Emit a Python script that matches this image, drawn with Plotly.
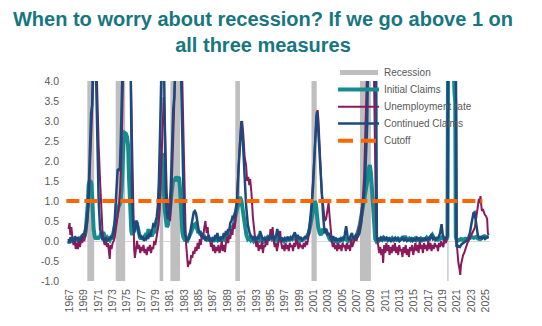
import plotly.graph_objects as go

# ---- data (year-over-year change, decimal years) ----
recession_start = [1969.92, 1973.88, 1980.0, 1981.5, 1990.55, 2001.17, 2007.92, 2020.1]
recession_end = [1970.88, 1975.2, 1980.5, 1982.85, 1991.2, 2001.9, 2009.45, 2020.27]

initial_claims = [
    (1967.3, 0.0), (1967.45, -0.05), (1967.6, 0.05), (1967.75, -0.03), (1967.9, 0.02), (1968.05, 0.0),
    (1968.2, 0.06), (1968.35, -0.02), (1968.5, 0.04), (1968.65, 0.0), (1968.8, 0.05), (1968.95, 0.02),
    (1969.1, 0.08), (1969.25, 0.05), (1969.4, 0.1), (1969.55, 0.12), (1969.7, 0.25), (1969.85, 0.5),
    (1970.0, 0.95), (1970.1, 1.4), (1970.25, 1.5), (1970.4, 1.48), (1970.5, 1.42), (1970.6, 1.1),
    (1970.7, 0.6), (1970.8, 0.3), (1970.95, 0.12), (1971.1, 0.05), (1971.25, 0.1), (1971.4, 0.05),
    (1971.55, 0.12), (1971.7, 0.08), (1971.85, 0.2), (1972.0, 0.15), (1972.15, 0.22), (1972.3, 0.1),
    (1972.45, 0.05), (1972.6, 0.08), (1972.75, 0.0), (1972.9, 0.05), (1973.05, 0.02), (1973.2, 0.08),
    (1973.35, 0.05), (1973.5, 0.15), (1973.65, 0.3), (1973.8, 0.5), (1973.95, 0.65), (1974.1, 0.75),
    (1974.25, 0.85), (1974.4, 0.9), (1974.55, 1.0), (1974.7, 1.3), (1974.85, 2.0), (1975.0, 2.55),
    (1975.15, 2.7), (1975.3, 2.68), (1975.45, 2.6), (1975.6, 2.4), (1975.75, 1.5), (1975.9, 0.7),
    (1976.05, 0.25), (1976.2, 0.15), (1976.35, 0.3), (1976.5, 0.45), (1976.65, 0.5), (1976.8, 0.45),
    (1976.95, 0.3), (1977.1, 0.15), (1977.25, 0.1), (1977.4, 0.05), (1977.55, 0.12), (1977.7, 0.05),
    (1977.85, 0.1), (1978.0, 0.08), (1978.15, 0.2), (1978.3, 0.1), (1978.45, 0.3), (1978.6, 0.15),
    (1978.75, 0.2), (1978.9, 0.12), (1979.05, 0.2), (1979.2, 0.25), (1979.35, 0.2), (1979.5, 0.35),
    (1979.65, 0.45), (1979.8, 0.6), (1979.95, 1.0), (1980.1, 1.6), (1980.25, 2.1), (1980.4, 2.2),
    (1980.5, 1.9), (1980.6, 1.3), (1980.7, 0.8), (1980.85, 0.45), (1981.0, 0.35), (1981.15, 0.4),
    (1981.3, 0.55), (1981.45, 0.8), (1981.6, 1.1), (1981.75, 1.4), (1981.9, 1.55), (1982.1, 1.5),
    (1982.3, 1.6), (1982.5, 1.55), (1982.7, 1.6), (1982.85, 1.3), (1983.0, 0.6), (1983.15, 0.25),
    (1983.3, 0.1), (1983.45, 0.05), (1983.6, 0.0), (1983.75, 0.05), (1983.9, 0.02), (1984.05, 0.08),
    (1984.2, 0.15), (1984.35, 0.2), (1984.5, 0.25), (1984.65, 0.35), (1984.8, 0.4), (1984.95, 0.42),
    (1985.1, 0.38), (1985.25, 0.3), (1985.4, 0.2), (1985.55, 0.25), (1985.7, 0.15), (1985.85, 0.2),
    (1986.0, 0.1), (1986.15, 0.15), (1986.3, 0.05), (1986.45, 0.1), (1986.6, 0.05), (1986.75, 0.08),
    (1986.9, 0.0), (1987.05, 0.05), (1987.2, 0.0), (1987.35, 0.03), (1987.5, -0.02), (1987.65, 0.05),
    (1987.8, 0.0), (1987.95, 0.06), (1988.1, 0.02), (1988.25, 0.05), (1988.4, 0.0), (1988.55, 0.05),
    (1988.7, 0.02), (1988.85, 0.08), (1989.0, 0.05), (1989.15, 0.1), (1989.3, 0.08), (1989.45, 0.15),
    (1989.6, 0.12), (1989.75, 0.2), (1989.9, 0.25), (1990.05, 0.3), (1990.2, 0.35), (1990.35, 0.4),
    (1990.6, 0.65), (1990.9, 0.85), (1991.2, 1.1), (1991.4, 1.0), (1991.6, 0.7), (1991.85, 0.4),
    (1992.1, 0.15), (1992.3, 0.05), (1992.5, 0.08), (1992.7, 0.02), (1992.9, 0.06), (1993.1, 0.0),
    (1993.3, 0.05), (1993.5, 0.02), (1993.7, 0.08), (1993.9, 0.03), (1994.1, 0.1), (1994.3, 0.05),
    (1994.5, 0.0), (1994.7, 0.06), (1994.9, 0.03), (1995.1, 0.1), (1995.3, 0.08), (1995.5, 0.12),
    (1995.7, 0.05), (1995.9, 0.08), (1996.1, 0.02), (1996.3, 0.06), (1996.5, 0.0), (1996.7, 0.05),
    (1996.9, 0.02), (1997.1, 0.04), (1997.3, 0.0), (1997.5, 0.05), (1997.7, 0.02), (1997.9, 0.06),
    (1998.1, 0.03), (1998.3, 0.08), (1998.5, 0.05), (1998.7, 0.1), (1998.9, 0.04), (1999.1, 0.02),
    (1999.3, 0.06), (1999.5, 0.0), (1999.7, 0.04), (1999.9, 0.02), (2000.1, 0.05), (2000.3, 0.08),
    (2000.5, 0.1), (2000.8, 0.2), (2001.0, 0.4), (2001.2, 0.65), (2001.45, 0.85), (2001.65, 1.0),
    (2001.8, 0.9), (2001.95, 0.6), (2002.1, 0.35), (2002.3, 0.2), (2002.5, 0.15), (2002.7, 0.3),
    (2002.9, 0.25), (2003.1, 0.3), (2003.3, 0.2), (2003.5, 0.1), (2003.7, 0.05), (2003.9, 0.02),
    (2004.1, 0.05), (2004.3, 0.0), (2004.5, 0.03), (2004.7, -0.02), (2004.9, 0.02), (2005.1, 0.0),
    (2005.3, 0.05), (2005.5, 0.02), (2005.7, 0.1), (2005.9, 0.05), (2006.1, 0.02), (2006.3, 0.0),
    (2006.5, 0.04), (2006.7, 0.02), (2006.9, 0.05), (2007.1, 0.05), (2007.3, 0.1), (2007.6, 0.2),
    (2007.9, 0.4), (2008.2, 0.7), (2008.5, 0.95), (2008.75, 1.2), (2008.95, 1.5), (2009.15, 1.8),
    (2009.3, 1.9), (2009.45, 1.7), (2009.6, 1.2), (2009.75, 0.6), (2009.9, 0.25), (2010.05, 0.05),
    (2010.2, 0.0), (2010.4, 0.05), (2010.6, 0.02), (2010.8, 0.06), (2011.0, 0.03), (2011.2, 0.08),
    (2011.4, 0.04), (2011.6, 0.06), (2011.8, 0.02), (2012.0, 0.05), (2012.2, 0.03), (2012.4, 0.07),
    (2012.6, 0.02), (2012.8, 0.05), (2013.0, 0.03), (2013.2, 0.06), (2013.4, 0.02), (2013.6, 0.05),
    (2013.8, 0.08), (2014.0, 0.05), (2014.2, 0.12), (2014.4, 0.05), (2014.6, 0.03), (2014.8, 0.06),
    (2015.0, 0.02), (2015.2, 0.05), (2015.4, 0.03), (2015.6, 0.06), (2015.8, 0.02), (2016.0, 0.05),
    (2016.2, 0.03), (2016.4, 0.06), (2016.6, 0.02), (2016.8, 0.05), (2017.0, 0.04), (2017.2, 0.08),
    (2017.4, 0.03), (2017.6, 0.06), (2017.8, 0.1), (2018.0, 0.15), (2018.2, 0.08), (2018.4, 0.04),
    (2018.6, 0.06), (2018.8, 0.03), (2019.0, 0.05), (2019.2, 0.08), (2019.4, 0.1), (2019.6, 0.05),
    (2019.8, 0.04), (2020.0, 0.06), (2020.12, 0.1), (2020.2, 4.5), (2020.95, 4.5), (2021.1, 3.7),
    (2021.2, 3.5), (2021.28, 0.1), (2021.45, 0.0), (2021.7, 0.02), (2022.0, 0.05), (2022.3, 0.03),
    (2022.6, 0.06), (2022.9, 0.04), (2023.2, 0.08), (2023.5, 0.1), (2023.8, 0.08), (2024.1, 0.1),
    (2024.4, 0.06), (2024.7, 0.05), (2025.0, 0.1), (2025.3, 0.12), (2025.6, 0.1), (2025.85, 0.1),
]

unemployment_rate = [
    (1967.3, 0.3), (1967.45, 0.45), (1967.55, 0.15), (1967.7, 0.35), (1967.85, 0.05), (1968.0, -0.1),
    (1968.15, 0.05), (1968.3, -0.2), (1968.45, -0.05), (1968.6, -0.2), (1968.75, 0.0), (1968.9, -0.15),
    (1969.05, 0.05), (1969.2, -0.05), (1969.35, 0.1), (1969.5, 0.0), (1969.65, 0.15), (1969.8, 0.3),
    (1969.95, 0.5), (1970.1, 0.9), (1970.25, 1.6), (1970.4, 2.5), (1970.55, 3.2), (1970.7, 3.8),
    (1970.85, 4.5), (1971.2, 4.5), (1971.35, 3.0), (1971.5, 2.4), (1971.7, 1.5), (1971.9, 0.7),
    (1972.05, 0.2), (1972.2, 0.0), (1972.35, -0.1), (1972.5, 0.1), (1972.65, -0.15), (1972.8, -0.05),
    (1972.95, -0.3), (1973.05, -0.45), (1973.15, -0.1), (1973.3, -0.2), (1973.45, -0.05), (1973.6, 0.0),
    (1973.75, 0.1), (1973.9, 0.3), (1974.05, 0.4), (1974.2, 0.6), (1974.35, 0.9), (1974.5, 1.3),
    (1974.65, 2.0), (1974.8, 3.2), (1974.95, 4.5), (1975.95, 4.5), (1976.05, 3.5), (1976.15, 2.0),
    (1976.25, 1.0), (1976.35, 0.3), (1976.45, -0.2), (1976.55, -0.42), (1976.7, -0.1), (1976.85, 0.0),
    (1977.0, -0.2), (1977.15, -0.1), (1977.3, -0.3), (1977.45, -0.15), (1977.6, -0.25), (1977.75, -0.1),
    (1977.9, -0.3), (1978.05, -0.2), (1978.2, -0.35), (1978.35, -0.15), (1978.5, -0.25), (1978.65, -0.1),
    (1978.8, -0.3), (1978.95, -0.15), (1979.1, -0.2), (1979.25, 0.0), (1979.4, -0.1), (1979.55, 0.1),
    (1979.7, 0.2), (1979.85, 0.4), (1980.0, 0.8), (1980.15, 1.5), (1980.3, 2.4), (1980.45, 3.2),
    (1980.58, 3.6), (1980.72, 3.0), (1980.85, 1.8), (1981.0, 1.2), (1981.15, 0.9), (1981.3, 0.6),
    (1981.45, 0.5), (1981.6, 0.9), (1981.75, 1.6), (1981.9, 2.6), (1982.05, 3.5), (1982.2, 4.5),
    (1983.1, 4.5), (1983.2, 3.5), (1983.3, 2.5), (1983.4, 1.8), (1983.5, 1.0), (1983.6, 0.4),
    (1983.7, -0.1), (1983.82, -0.45), (1983.95, -0.65), (1984.1, -0.5), (1984.25, -0.58), (1984.4, -0.35),
    (1984.55, -0.42), (1984.7, -0.25), (1984.85, -0.32), (1985.0, -0.15), (1985.15, -0.25), (1985.3, -0.05),
    (1985.45, -0.2), (1985.6, 0.05), (1985.75, -0.1), (1985.9, 0.2), (1986.05, 0.05), (1986.2, 0.3),
    (1986.38, 0.5), (1986.55, 0.2), (1986.7, 0.35), (1986.85, 0.0), (1987.0, 0.1), (1987.15, -0.15),
    (1987.3, -0.05), (1987.45, -0.25), (1987.6, -0.1), (1987.75, -0.3), (1987.9, -0.15), (1988.05, -0.25),
    (1988.2, -0.1), (1988.35, -0.3), (1988.5, -0.2), (1988.65, 0.0), (1988.8, -0.25), (1988.95, -0.1),
    (1989.1, -0.28), (1989.25, -0.05), (1989.4, 0.1), (1989.55, -0.05), (1989.7, 0.15), (1989.85, 0.05),
    (1990.0, 0.3), (1990.15, 0.15), (1990.3, 0.45), (1990.45, 0.3), (1990.6, 0.55), (1990.75, 0.9),
    (1990.9, 1.5), (1991.05, 2.1), (1991.2, 2.5), (1991.35, 2.85), (1991.5, 3.0), (1991.65, 2.7),
    (1991.85, 2.1), (1992.05, 1.9), (1992.2, 1.5), (1992.35, 1.6), (1992.5, 1.4), (1992.62, 1.55),
    (1992.8, 1.2), (1993.0, 0.6), (1993.2, 0.15), (1993.35, 0.0), (1993.5, -0.15), (1993.65, 0.0),
    (1993.8, -0.25), (1993.95, -0.1), (1994.1, -0.2), (1994.25, 0.0), (1994.4, -0.3), (1994.55, -0.1),
    (1994.7, -0.15), (1994.85, 0.05), (1995.0, -0.1), (1995.15, 0.1), (1995.3, 0.0), (1995.45, 0.3),
    (1995.6, 0.05), (1995.75, 0.35), (1995.9, 0.0), (1996.05, -0.15), (1996.2, -0.05), (1996.35, -0.25),
    (1996.5, -0.1), (1996.65, 0.05), (1996.8, 0.25), (1996.95, -0.05), (1997.1, -0.2), (1997.25, -0.1),
    (1997.4, -0.25), (1997.55, -0.05), (1997.7, -0.2), (1997.85, -0.1), (1998.0, -0.25), (1998.15, -0.05),
    (1998.3, -0.15), (1998.45, -0.1), (1998.6, -0.25), (1998.75, -0.05), (1998.9, -0.15), (1999.05, 0.1),
    (1999.2, -0.1), (1999.35, -0.2), (1999.5, -0.05), (1999.65, -0.15), (1999.8, -0.1), (1999.95, -0.2),
    (2000.1, -0.05), (2000.25, -0.15), (2000.4, 0.0), (2000.55, -0.1), (2000.7, 0.05), (2000.85, 0.2),
    (2001.0, 0.4), (2001.15, 0.8), (2001.3, 1.3), (2001.45, 1.9), (2001.6, 2.5), (2001.75, 2.9),
    (2001.9, 3.2), (2002.02, 3.27), (2002.15, 3.0), (2002.3, 2.4), (2002.45, 1.6), (2002.6, 1.2),
    (2002.8, 0.9), (2003.0, 0.5), (2003.2, 0.55), (2003.4, 0.8), (2003.55, 0.95), (2003.7, 0.6),
    (2003.85, 0.25), (2004.0, 0.0), (2004.15, -0.15), (2004.3, -0.05), (2004.45, -0.2), (2004.6, -0.1),
    (2004.75, -0.25), (2004.9, -0.05), (2005.05, -0.2), (2005.2, -0.1), (2005.35, -0.25), (2005.5, -0.05),
    (2005.65, -0.15), (2005.8, -0.1), (2005.95, -0.25), (2006.1, -0.05), (2006.25, -0.2), (2006.4, -0.1),
    (2006.55, -0.25), (2006.7, 0.05), (2006.85, -0.15), (2007.0, -0.05), (2007.15, 0.05), (2007.3, 0.1),
    (2007.45, 0.0), (2007.6, 0.2), (2007.75, 0.3), (2007.9, 0.4), (2008.1, 0.7), (2008.3, 1.0),
    (2008.5, 1.6), (2008.7, 2.6), (2008.85, 3.6), (2008.95, 4.5), (2009.85, 4.5), (2009.95, 3.0),
    (2010.05, 1.5), (2010.15, 0.6), (2010.3, 0.1), (2010.45, -0.1), (2010.6, -0.3), (2010.75, -0.15),
    (2010.9, -0.35), (2011.05, -0.2), (2011.15, -0.55), (2011.3, -0.1), (2011.45, -0.3), (2011.6, -0.05),
    (2011.75, -0.25), (2011.9, -0.1), (2012.05, -0.35), (2012.2, -0.15), (2012.35, -0.3), (2012.5, -0.1),
    (2012.65, -0.25), (2012.8, -0.05), (2012.95, -0.3), (2013.1, -0.15), (2013.25, -0.35), (2013.4, -0.1),
    (2013.55, -0.25), (2013.7, -0.2), (2013.85, -0.4), (2014.0, -0.15), (2014.15, -0.3), (2014.3, -0.1),
    (2014.45, -0.35), (2014.6, -0.2), (2014.75, -0.4), (2014.9, -0.15), (2015.05, -0.25), (2015.2, -0.1),
    (2015.35, -0.35), (2015.5, -0.2), (2015.65, -0.05), (2015.8, -0.25), (2015.95, -0.1), (2016.1, -0.3),
    (2016.25, 0.0), (2016.4, -0.2), (2016.55, -0.1), (2016.7, -0.3), (2016.85, -0.05), (2017.0, -0.2),
    (2017.15, -0.1), (2017.3, -0.25), (2017.45, 0.0), (2017.6, -0.2), (2017.75, -0.05), (2017.9, -0.25),
    (2018.05, -0.1), (2018.2, -0.2), (2018.35, -0.05), (2018.5, -0.15), (2018.65, -0.1), (2018.8, -0.25),
    (2018.95, -0.05), (2019.1, -0.15), (2019.25, 0.0), (2019.4, -0.1), (2019.55, -0.15), (2019.7, 0.05),
    (2019.85, -0.05), (2020.0, 0.0), (2020.12, 0.2), (2020.2, 4.5), (2021.3, 4.5), (2021.38, 0.0),
    (2021.5, -0.3), (2021.65, -0.55), (2021.8, -0.7), (2021.9, -0.85), (2022.0, -0.6), (2022.15, -0.45),
    (2022.3, -0.35), (2022.45, -0.3), (2022.6, -0.22), (2022.75, -0.1), (2022.9, -0.05), (2023.05, 0.0),
    (2023.2, 0.05), (2023.35, 0.12), (2023.5, 0.15), (2023.65, 0.22), (2023.8, 0.28), (2023.95, 0.35),
    (2024.1, 0.55), (2024.25, 0.75), (2024.4, 0.85), (2024.5, 1.05), (2024.6, 0.95), (2024.72, 1.12),
    (2024.82, 0.92), (2024.92, 0.75), (2025.05, 0.8), (2025.2, 0.72), (2025.35, 0.65), (2025.5, 0.62),
    (2025.65, 0.55), (2025.75, 0.2), (2025.85, 0.15),
]

continued_claims = [
    (1967.3, 0.05), (1967.45, -0.05), (1967.6, 0.1), (1967.75, 0.0), (1967.9, 0.08), (1968.05, -0.02),
    (1968.2, 0.12), (1968.35, 0.03), (1968.5, 0.1), (1968.65, 0.0), (1968.8, 0.08), (1968.95, 0.02),
    (1969.1, 0.1), (1969.25, 0.15), (1969.4, 0.12), (1969.55, 0.22), (1969.7, 0.35), (1969.85, 0.55),
    (1970.0, 0.85), (1970.15, 1.5), (1970.3, 2.5), (1970.45, 3.2), (1970.6, 3.4), (1970.7, 4.5),
    (1971.1, 4.5), (1971.3, 2.5), (1971.5, 1.0), (1971.7, 0.3), (1971.9, 0.08), (1972.05, 0.02),
    (1972.2, 0.08), (1972.35, -0.02), (1972.5, 0.05), (1972.65, 0.0), (1972.8, 0.06), (1972.95, 0.02),
    (1973.1, 0.1), (1973.25, 0.05), (1973.4, 0.12), (1973.55, 0.2), (1973.7, 0.4), (1973.85, 0.85),
    (1974.0, 1.5), (1974.15, 1.78), (1974.3, 1.8), (1974.45, 1.75), (1974.6, 2.6), (1974.75, 3.6),
    (1974.85, 4.5), (1975.95, 4.5), (1976.05, 2.6), (1976.15, 1.2), (1976.3, 0.45), (1976.45, 0.2),
    (1976.6, 0.3), (1976.75, 0.5), (1976.9, 0.45), (1977.05, 0.25), (1977.2, 0.1), (1977.35, 0.15),
    (1977.5, 0.05), (1977.65, 0.12), (1977.8, 0.0), (1977.95, 0.08), (1978.1, 0.02), (1978.25, 0.15),
    (1978.4, 0.05), (1978.55, 0.2), (1978.7, 0.1), (1978.85, 0.25), (1979.0, 0.3), (1979.15, 0.45),
    (1979.3, 0.35), (1979.45, 0.5), (1979.6, 0.6), (1979.75, 0.85), (1979.9, 1.5), (1980.05, 2.6),
    (1980.2, 3.8), (1980.3, 4.5), (1980.6, 4.5), (1980.72, 2.8), (1980.85, 1.3), (1981.0, 0.7),
    (1981.15, 0.55), (1981.3, 0.6), (1981.45, 0.9), (1981.6, 1.6), (1981.75, 2.6), (1981.9, 3.3),
    (1982.05, 3.6), (1982.2, 4.5), (1982.95, 4.5), (1983.1, 3.0), (1983.25, 1.4), (1983.4, 0.5),
    (1983.55, 0.15), (1983.7, 0.05), (1983.85, 0.0), (1984.0, 0.05), (1984.15, 0.1), (1984.3, 0.25),
    (1984.45, 0.45), (1984.6, 0.6), (1984.75, 0.72), (1984.9, 0.75), (1985.05, 0.7), (1985.2, 0.55),
    (1985.35, 0.35), (1985.5, 0.2), (1985.65, 0.25), (1985.8, 0.1), (1985.95, 0.2), (1986.1, 0.05),
    (1986.25, 0.12), (1986.4, 0.0), (1986.55, 0.1), (1986.7, 0.05), (1986.85, 0.15), (1987.0, 0.0),
    (1987.15, 0.08), (1987.3, -0.02), (1987.45, 0.1), (1987.6, 0.0), (1987.75, 0.15), (1987.9, 0.05),
    (1988.05, 0.2), (1988.2, 0.0), (1988.35, 0.08), (1988.5, 0.02), (1988.65, 0.12), (1988.8, 0.05),
    (1988.95, 0.2), (1989.1, 0.1), (1989.25, 0.25), (1989.4, 0.15), (1989.55, 0.3), (1989.7, 0.25),
    (1989.85, 0.45), (1990.0, 0.5), (1990.15, 0.6), (1990.3, 0.58), (1990.55, 0.75), (1990.8, 1.0),
    (1991.0, 1.8), (1991.2, 2.6), (1991.4, 3.0), (1991.6, 2.5), (1991.85, 1.6), (1992.05, 0.9),
    (1992.3, 0.4), (1992.55, 0.2), (1992.8, 0.1), (1993.0, 0.05), (1993.2, 0.12), (1993.4, 0.02),
    (1993.6, 0.1), (1993.8, 0.05), (1994.0, 0.25), (1994.2, 0.1), (1994.4, 0.02), (1994.6, 0.08),
    (1994.8, 0.0), (1995.0, 0.1), (1995.2, 0.05), (1995.4, 0.15), (1995.6, 0.08), (1995.8, 0.12),
    (1996.0, 0.05), (1996.2, 0.1), (1996.4, 0.3), (1996.6, 0.12), (1996.8, 0.02), (1997.0, 0.08),
    (1997.2, 0.0), (1997.4, 0.06), (1997.6, 0.02), (1997.8, 0.1), (1998.0, 0.04), (1998.2, 0.08),
    (1998.4, 0.02), (1998.6, 0.12), (1998.85, 0.22), (1999.05, 0.08), (1999.25, 0.15), (1999.45, 0.05),
    (1999.65, 0.1), (1999.85, 0.02), (2000.05, 0.06), (2000.25, 0.1), (2000.45, 0.08), (2000.65, 0.15),
    (2000.85, 0.3), (2001.05, 0.6), (2001.25, 1.0), (2001.4, 1.4), (2001.55, 2.0), (2001.7, 2.7),
    (2001.85, 3.1), (2001.96, 3.23), (2002.1, 2.8), (2002.25, 2.2), (2002.4, 1.6), (2002.6, 1.03),
    (2002.8, 0.6), (2003.0, 0.2), (2003.2, 0.3), (2003.4, 0.15), (2003.6, 0.2), (2003.8, 0.08),
    (2004.0, 0.02), (2004.2, 0.12), (2004.4, 0.0), (2004.6, 0.06), (2004.8, 0.02), (2005.0, 0.05),
    (2005.2, 0.0), (2005.4, 0.08), (2005.6, 0.02), (2005.8, 0.15), (2006.0, 0.37), (2006.2, 0.1),
    (2006.4, 0.02), (2006.6, 0.12), (2006.8, 0.2), (2007.0, 0.05), (2007.2, 0.1), (2007.45, 0.15),
    (2007.65, 0.12), (2007.86, 0.2), (2008.1, 0.45), (2008.3, 0.8), (2008.5, 1.2), (2008.65, 1.6),
    (2008.8, 2.2), (2008.93, 2.9), (2009.05, 4.5), (2010.18, 4.5), (2010.28, 0.0), (2010.45, 0.05),
    (2010.65, 0.02), (2010.85, 0.08), (2011.05, 0.03), (2011.25, 0.1), (2011.45, 0.04), (2011.65, 0.08),
    (2011.85, 0.02), (2012.05, 0.06), (2012.25, 0.0), (2012.45, 0.05), (2012.65, 0.02), (2012.85, 0.08),
    (2013.05, 0.03), (2013.25, 0.06), (2013.45, 0.0), (2013.65, 0.05), (2013.85, 0.08), (2014.05, 0.02),
    (2014.25, 0.06), (2014.45, 0.0), (2014.65, 0.04), (2014.85, 0.02), (2015.05, 0.06), (2015.25, 0.0),
    (2015.45, 0.05), (2015.65, 0.02), (2015.85, 0.08), (2016.05, 0.03), (2016.25, 0.06), (2016.45, 0.01),
    (2016.65, 0.05), (2016.85, 0.02), (2017.05, 0.06), (2017.25, 0.03), (2017.45, 0.07), (2017.65, 0.04),
    (2017.9, 0.17), (2018.1, 0.05), (2018.3, 0.08), (2018.5, 0.03), (2018.7, 0.06), (2018.9, 0.1),
    (2019.1, 0.2), (2019.3, 0.42), (2019.45, 0.18), (2019.65, 0.05), (2019.85, 0.08), (2020.05, 0.1),
    (2020.15, 0.15), (2020.2, 4.5), (2021.3, 4.5), (2021.38, -0.15), (2021.6, -0.12), (2021.85, -0.15),
    (2022.1, -0.08), (2022.35, -0.05), (2022.6, -0.02), (2022.85, 0.02), (2023.05, 0.1), (2023.25, 0.2),
    (2023.45, 0.42), (2023.6, 0.6), (2023.75, 0.7), (2023.9, 0.72), (2024.05, 0.55), (2024.2, 0.3),
    (2024.35, 0.15), (2024.55, 0.08), (2024.75, 0.1), (2024.95, 0.06), (2025.15, 0.1), (2025.35, 0.05),
    (2025.55, 0.08), (2025.7, 0.1), (2025.85, 0.12),
]

cutoff_years = [1967.0, 2025.0]
cutoff_values = [1.0, 1.0]

tick_years = list(range(1967, 2026, 2))
y_ticks = [4.0, 3.5, 3.0, 2.5, 2.0, 1.5, 1.0, 0.5, 0.0, -0.5, -1.0]

# ---- styling ----
TEAL = "#168C8F"
MAROON = "#8A1A5B"
NAVY = "#1C4A7E"
ORANGE = "#FF6600"
BAND = "#BFBFBF"
LABEL = "#595959"
FONT = "Liberation Sans, Arial, sans-serif"

W, H = 542, 326
ML, MR, MT, MB = 66, 52, 81, 45
PW, PH = W - ML - MR, H - MT - MB


def px_x(p):
    return (p - ML) / PW


def px_y(p):
    return (H - MB - p) / PH


fig = go.Figure()

series = [
    ("Initial Claims", initial_claims, TEAL, 4),
    ("Unemployment rate", unemployment_rate, MAROON, 2),
    ("Continued Claims", continued_claims, NAVY, 2.5),
]
for name, pts, color, width in series:
    fig.add_trace(go.Scatter(
        x=[p[0] for p in pts], y=[p[1] for p in pts], mode="lines", name=name,
        line=dict(color=color, width=width), showlegend=False,
    ))

fig.add_trace(go.Scatter(
    x=cutoff_years, y=cutoff_values, mode="lines", name="Cutoff",
    line=dict(color=ORANGE, width=4, dash="13px,5px"), showlegend=False,
))

shapes = []
for s, e in zip(recession_start, recession_end):
    shapes.append(dict(type="rect", xref="x", yref="y", x0=s, x1=e, y0=-1, y1=4,
                       fillcolor=BAND, line=dict(width=0), layer="between"))

# legend drawn in the upper right of the plot
legend_rows = [
    ("Recession", 72.5, dict(kind="band")),
    ("Initial Claims", 89.5, dict(kind="line", color=TEAL, width=4, dash="solid")),
    ("Unemployment rate", 106.7, dict(kind="line", color=MAROON, width=2, dash="solid")),
    ("Continued Claims", 123.5, dict(kind="line", color=NAVY, width=2.5, dash="solid")),
    ("Cutoff", 140.7, dict(kind="line", color=ORANGE, width=4, dash="15px,8px")),
]
annotations = []
for label, yc, sym in legend_rows:
    if sym["kind"] == "band":
        shapes.append(dict(type="rect", xref="paper", yref="paper",
                           x0=px_x(340), x1=px_x(378), y0=px_y(yc + 2.5), y1=px_y(yc - 2.5),
                           fillcolor=BAND, line=dict(width=0), layer="above"))
    else:
        shapes.append(dict(type="line", xref="paper", yref="paper",
                           x0=px_x(338), x1=px_x(379), y0=px_y(yc), y1=px_y(yc),
                           line=dict(color=sym["color"], width=sym["width"], dash=sym["dash"]),
                           layer="above"))
    annotations.append(dict(text=label, xref="paper", yref="paper", x=px_x(382), y=px_y(yc),
                            xanchor="left", yanchor="middle", showarrow=False,
                            font=dict(family=FONT, size=10, color=LABEL)))

fig.update_layout(
    width=W, height=H,
    margin=dict(l=ML, r=MR, t=MT, b=MB, pad=0),
    paper_bgcolor="white", plot_bgcolor="white",
    title=dict(
        text="When to worry about recession? If we go above 1 on<br>all three measures",
        x=263 / W, xanchor="center", xref="container",
        y=1 - 26 / H, yanchor="top", yref="container",
        font=dict(family=FONT, size=20, color="#17777F", weight="bold"),
    ),
    shapes=shapes,
    annotations=annotations,
    xaxis=dict(
        range=[1966.95, 2026.05], showgrid=False, zeroline=False, showline=False,
        tickmode="array", tickvals=[y + 0.45 for y in tick_years],
        ticktext=[str(y) for y in tick_years], tickangle=-90,
        ticks="", ticklabelstandoff=5, tickfont=dict(family=FONT, size=10.5, color=LABEL),
    ),
    yaxis=dict(
        range=[-1, 4], showgrid=False, zeroline=True, zerolinecolor="#D9D9D9", zerolinewidth=1,
        showline=False, tickmode="array", tickvals=y_ticks,
        ticktext=[f"{v:.1f}" for v in y_ticks], ticks="", ticklabelstandoff=6,
        tickfont=dict(family=FONT, size=10.5, color=LABEL),
    ),
)

fig.write_html("out.html", config={"displayModeBar": False})
